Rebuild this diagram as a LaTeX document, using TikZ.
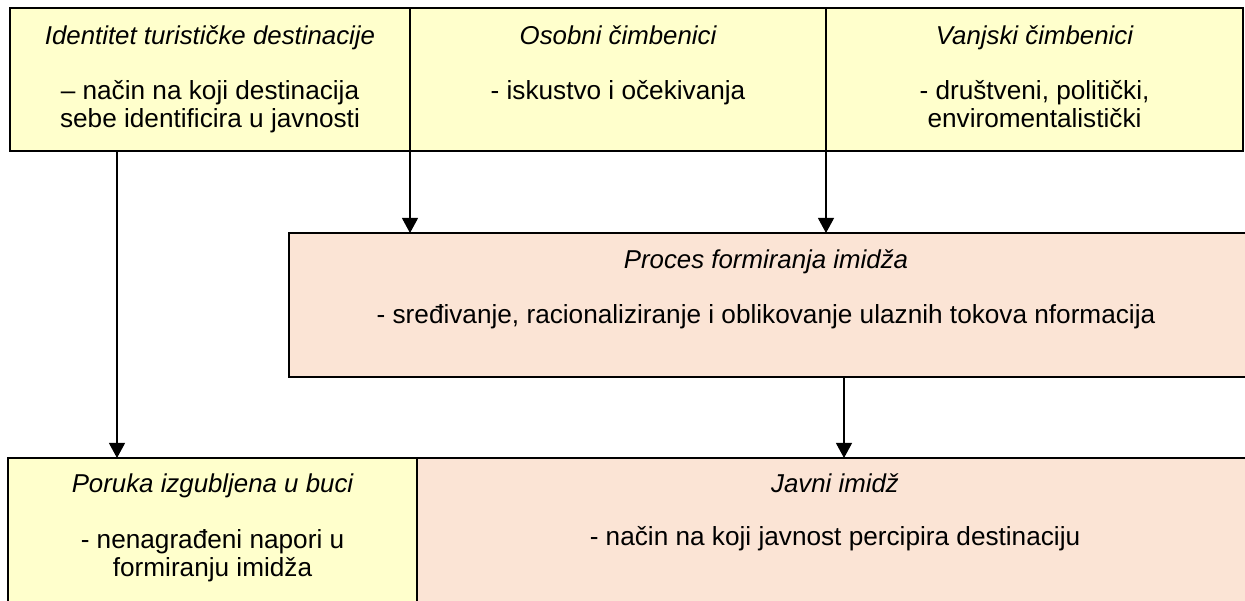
\documentclass[tikz,border=0pt]{standalone}
\usepackage{fontspec}
\setmainfont{Liberation Sans}
\usetikzlibrary{positioning,arrows.meta}
\definecolor{boxyellow}{HTML}{FFFFCC}
\definecolor{boxpink}{HTML}{FBE4D5}

\begin{document}
\begin{tikzpicture}[
        box/.style = {
            draw,
            line width=1pt,
            inner sep=0pt,
            outer sep=0pt,
            anchor=north west,
            minimum height={2.86cm}
        },
        ttl/.style = {anchor=base, align=center, inner sep=0pt, font=\fontsize{14.7}{16.2}\selectfont\itshape},
        txt/.style = {anchor=base, align=center, inner sep=0pt, font=\fontsize{14.9}{16.4}\selectfont},
        arr/.style = {-{Triangle[length=0.3cm,width=0.32cm]}, line width=0.6pt}]

        \useasboundingbox (0,0) rectangle (24.9,-12.02);
        \clip (0,0) rectangle (24.9,-12.02);

        % gornji red
        \node[box, fill=boxyellow, minimum width=8cm] (ident) at (0.2,-0.16) {};
        \node[box, fill=boxyellow, minimum width=8.32cm, right=0pt of ident] (osobni) {};
        \node[box, fill=boxyellow, minimum width=8.34cm, right=0pt of osobni] (vanjski) {};

        % proces i donji red
        \node[box, fill=boxpink, minimum width=19.42cm, minimum height=2.88cm] (proces) at (5.78,-4.66) {};
        \node[box, fill=boxyellow, minimum width=8.18cm, minimum height=3.3cm] (poruka) at (0.16,-9.16) {};
        \node[box, fill=boxpink, minimum width=16.9cm, minimum height=3.3cm, right=0pt of poruka] (javni) {};

        % tekst (bazna linija zadnjeg retka)
        \node[ttl] (identT) at ([yshift=-0.74cm]ident.north) {Identitet turističke destinacije};
        \node[txt] (identB) at ([yshift=-2.40cm]ident.north) {– način na koji destinacija\\sebe identificira u javnosti};
        \node[ttl] (osobniT) at ([yshift=-0.74cm]osobni.north) {Osobni čimbenici};
        \node[txt] (osobniB) at ([yshift=-1.84cm]osobni.north) {- iskustvo i očekivanja};
        \node[ttl] (vanjskiT) at ([yshift=-0.74cm]vanjski.north) {Vanjski čimbenici};
        \node[txt] (vanjskiB) at ([yshift=-2.40cm]vanjski.north) {- društveni, politički,\\enviromentalistički};

        \node[ttl] (procesT) at ([xshift=9.54cm,yshift=-0.72cm]proces.north west) {Proces formiranja imidža};
        \node[txt] (procesB) at ([xshift=9.54cm,yshift=-1.82cm]proces.north west) {- sređivanje, racionaliziranje i oblikovanje ulaznih tokova nformacija};

        \node[ttl] (porukaT) at ([yshift=-0.7cm]poruka.north) {Poruka izgubljena u buci};
        \node[txt] (porukaB) at ([yshift=-2.38cm]poruka.north) {- nenagrađeni napori u\\formiranju imidža};
        \node[ttl] (javniT) at ([xshift=8.36cm,yshift=-0.7cm]javni.north west) {Javni imidž};
        \node[txt] (javniB) at ([xshift=8.36cm,yshift=-1.76cm]javni.north west) {- način na koji javnost percipira destinaciju};

        \draw[arr] ([xshift=2.14cm]ident.south west) coordinate (s1) -- (s1 |- poruka.north);
        \draw[arr] (ident.south east) -- (ident.south east |- proces.north);
        \draw[arr] (osobni.south east) -- (osobni.south east |- proces.north);
        \draw[arr] ([xshift=11.1cm]proces.south west) coordinate (s4) -- (s4 |- javni.north);
    \end{tikzpicture}
\end{document}
